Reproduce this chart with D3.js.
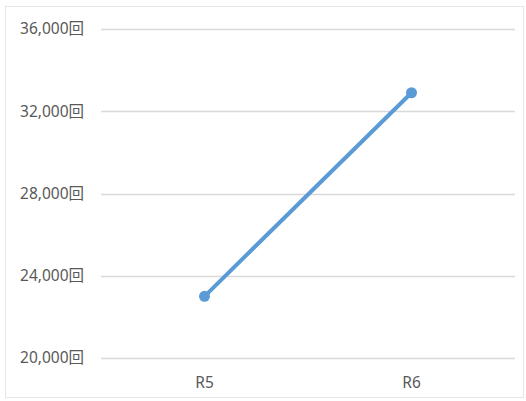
<!DOCTYPE html>
<html><head><meta charset="utf-8">
<script src="https://cdn.jsdelivr.net/npm/d3@7"></script>
<style>body{margin:0;background:#fff}svg{display:block}</style>
</head><body>
<svg id="c" width="526" height="401"></svg>
<script>
const categories = ["R5", "R6"];
const values = [23000, 32900];
const yTicks = [20000, 24000, 28000, 32000, 36000];
const unit = "回";

const svg = d3.select("#c");
const font = "'Noto Sans', 'Noto Sans CJK JP', sans-serif";
svg.append("rect").attr("x", 5.5).attr("y", 6.5).attr("width", 518).attr("height", 391)
  .attr("fill", "#fff").attr("stroke", "#e6e6e6").attr("stroke-width", 1);

const x = d3.scaleBand().domain(categories).range([101, 515]);
const y = d3.scaleLinear().domain([20000, 36000]).range([358, 29]);

svg.append("g").selectAll("line").data(yTicks).join("line")
  .attr("x1", 101).attr("x2", 515)
  .attr("y1", d => Math.round(y(d)) + 0.5).attr("y2", d => Math.round(y(d)) + 0.5)
  .attr("stroke", "#d9d9d9").attr("stroke-width", 1.5);

svg.append("g").selectAll("text").data(yTicks).join("text")
  .attr("x", 84).attr("y", d => y(d)).attr("dy", "0.35em")
  .attr("text-anchor", "end").attr("fill", "#595959")
  .style("font-family", font).style("font-size", "15.5px")
  .text(d => d3.format(",")(d) + unit);

svg.append("g").selectAll("text").data(categories).join("text")
  .attr("x", d => x(d) + x.bandwidth() / 2).attr("y", 383).attr("dy", "0.35em")
  .attr("text-anchor", "middle").attr("fill", "#595959")
  .style("font-family", font).style("font-size", "15.5px")
  .text(d => d);

const pts = categories.map((c, i) => [x(c) + x.bandwidth() / 2, y(values[i])]);
svg.append("path").attr("d", d3.line()(pts)).attr("fill", "none")
  .attr("stroke", "#5b9bd5").attr("stroke-width", 4).attr("stroke-linecap", "round");
svg.append("g").selectAll("circle").data(pts).join("circle")
  .attr("cx", d => d[0]).attr("cy", d => d[1]).attr("r", 5.5)
  .attr("fill", "#5b9bd5");
</script>
</body></html>
